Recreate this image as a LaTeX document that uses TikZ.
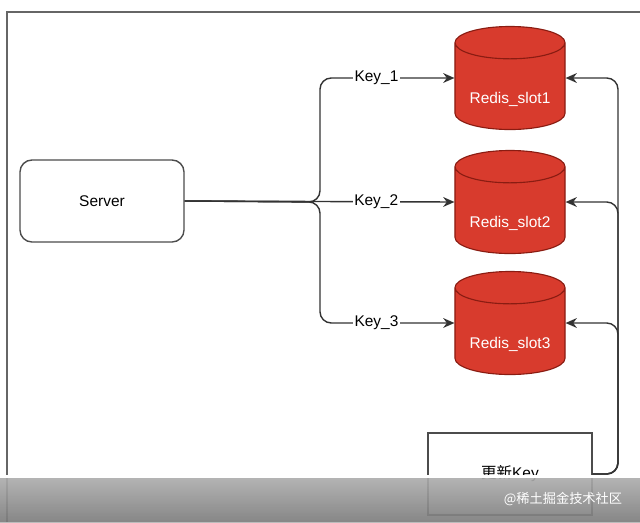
\documentclass[tikz,border=0pt]{standalone}
\usepackage{fontspec}
\setmainfont{Liberation Sans}
\newfontfamily\cjk{Noto Sans CJK SC}
\usetikzlibrary{arrows.meta,shapes.geometric}
\definecolor{redisred}{HTML}{D83B2D}
\definecolor{redisedge}{HTML}{8A1C12}
\definecolor{linegray}{HTML}{333333}
\newcommand{\slottext}[1]{\raisebox{-0.42cm}[0pt][0pt]{#1}}

\begin{document}
\begin{tikzpicture}[x=0.025cm, y=-0.025cm,
    box/.style={draw=black!70, line width=1pt, minimum width=4.1cm, minimum height=2.05cm, font=\fontsize{11}{13}\selectfont},
    slotnode/.style={cylinder, shape border rotate=90, aspect=0.4, anchor=shape center, draw=redisedge, fill=redisred, line width=0.8pt, minimum width=2.75cm, minimum height=2.575cm, inner sep=0pt, text=white, font=\fontsize{11}{13}\selectfont},
    arr/.style={draw=linegray, line width=1pt, -{Stealth[length=8pt,width=7pt]}},
    keylabel/.style={fill=white, inner sep=1pt, font=\fontsize{11}{13}\selectfont}]

    \useasboundingbox (0,0) rectangle (640,522);

    % frame
    \draw[black!60, line width=1.4pt] (7,522) -- (7,12) -- (640,12);

    \node[box, rounded corners=0.3cm](server) at (102,201) {Server};
    \node[box](upd) at (510,474) {{\cjk 更新}Key};

    \node[slotnode](slot1) at (510,78) {\slottext{Redis\_slot1}};
    \node[slotnode](slot2) at (510,202) {\slottext{Redis\_slot2}};
    \node[slotnode](slot3) at (510,323) {\slottext{Redis\_slot3}};

    % arrow ends on the cylinder sides
    \foreach \s in {slot1,slot2,slot3} {
        \coordinate (\s w) at (\s.shape center -| \s.west);
        \coordinate (\s e) at (\s.shape center -| \s.east);
    }

    % server -> slots
    \draw[arr, rounded corners=8] (server.east) -- (320,202) |- (slot1w) node[keylabel, pos=0.71] {Key\_1};
    \draw[arr] (server.east) -- (slot2w) node[keylabel, pos=0.71] {Key\_2};
    \draw[arr, rounded corners=8] (server.east) -- (320,202) |- (slot3w) node[keylabel, pos=0.71] {Key\_3};

    % update key -> slots
    \coordinate (uj) at (618,474);
    \draw[arr, rounded corners=8] (upd.east) -- (uj) |- (slot1e);
    \draw[arr, rounded corners=8] (upd.east) -- (uj) |- (slot2e);
    \draw[arr, rounded corners=8] (upd.east) -- (uj) |- (slot3e);

    % bottom bar
    \fill[white] (0,475) rectangle (640,478);
    \fill[top color=gray!25, bottom color=gray!75, opacity=0.7] (0,478) rectangle (640,522);
    \node[text=white, font=\cjk\fontsize{9.4}{11}\selectfont](mark) at (563,499) {@稀土掘金技术社区};
\end{tikzpicture}
\end{document}
